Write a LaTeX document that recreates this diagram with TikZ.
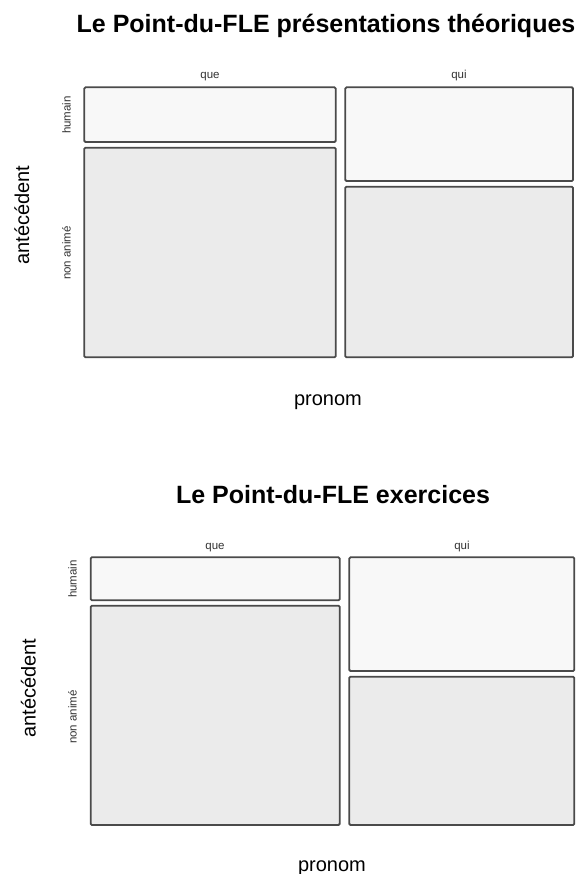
\documentclass[tikz,border=0pt]{standalone}
\usepackage{fontspec}
\setmainfont{Liberation Sans}
\usetikzlibrary{positioning}

\definecolor{cellhum}{HTML}{F8F8F8}
\definecolor{cellnon}{HTML}{EBEBEB}
\definecolor{cellline}{HTML}{4A4A4A}

\tikzset{
 humcell/.style={draw=cellline, fill=cellhum, line width=1.8pt, rounded corners=1.2pt},
 noncell/.style={draw=cellline, fill=cellnon, line width=1.8pt, rounded corners=1.2pt},
 smalllab/.style={font=\fontsize{11.5}{11.5}\selectfont, text=black!80, inner sep=0, anchor=base},
 axislab/.style={font=\fontsize{20}{20}\selectfont, inner sep=0, anchor=base},
 titlelab/.style={font=\fontsize{25}{25}\selectfont\bfseries, inner sep=0, anchor=base},
}

\begin{document}
\begin{tikzpicture}[x=1pt,y=-1pt]
\useasboundingbox[fill=white] (0,0) rectangle (581,874);

% panel 1
\node[titlelab] (titleA) at (326,33) {Le Point-du-FLE présentations théoriques};
\draw[humcell] (84.3,87.3) rectangle (335.7,142);
\draw[noncell] (84.3,147.7) rectangle (335.7,357.3);
\draw[humcell] (345.3,87.3) rectangle (573,181);
\draw[noncell] (345.3,186.7) rectangle (573,357.3);
\node[smalllab] (queA) at (210,79) {que};
\node[smalllab] (quiA) at (459,79) {qui};
\node[smalllab, rotate=90] (humA) at (70.5,115) {humain};
\node[smalllab, rotate=90] (nonA) at (70.5,253) {non animé};
\node[axislab, rotate=90] (antA) at (29,215) {antécédent};
\node[axislab] (proA) at (328,405) {pronom};

% panel 2
\node[titlelab] (titleB) at (333,503) {Le Point-du-FLE exercices};
\draw[humcell] (90.7,557.3) rectangle (339.7,600.3);
\draw[noncell] (90.7,605.7) rectangle (339.7,825);
\draw[humcell] (349.3,557.3) rectangle (574.3,671);
\draw[noncell] (349.3,676.7) rectangle (574.3,825);
\node[smalllab] (queB) at (215,549) {que};
\node[smalllab] (quiB) at (462,549) {qui};
\node[smalllab, rotate=90] (humB) at (76.5,579) {humain};
\node[smalllab, rotate=90] (nonB) at (76.5,717) {non animé};
\node[axislab, rotate=90] (antB) at (35.5,688) {antécédent};
\node[axislab] (proB) at (332,871) {pronom};
\end{tikzpicture}
\end{document}
